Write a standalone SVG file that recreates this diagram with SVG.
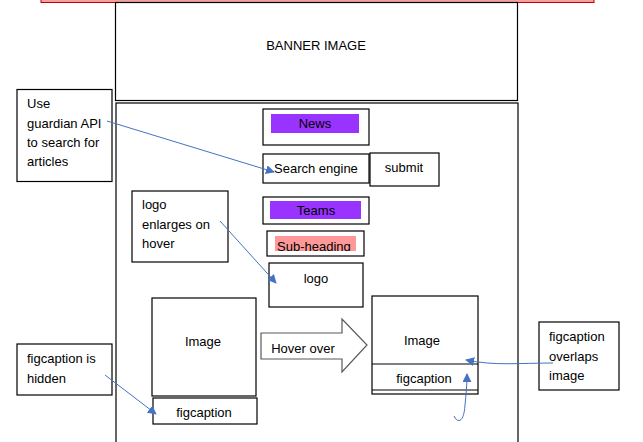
<svg xmlns="http://www.w3.org/2000/svg" width="643" height="442" viewBox="0 0 643 442">
<style>
.box{fill:#fff;stroke:#000;stroke-width:1.2}
.t{font-family:"Liberation Sans",Arial,sans-serif;font-size:13px;fill:#000}
.c{text-anchor:middle}
.conn{fill:none;stroke:#4472C4;stroke-width:1}
</style>
<defs>
<marker id="ah" viewBox="0 0 10 10" refX="9" refY="5" markerWidth="9" markerHeight="9" markerUnits="userSpaceOnUse" orient="auto">
<path d="M0,0 L10,5 L0,10 z" fill="#4472C4"/>
</marker>
<clipPath id="subclip"><rect x="275" y="236" width="81" height="15"/></clipPath>
</defs>
<rect width="643" height="442" fill="#fff"/>
<g id="topbar"><rect x="41" y="-5" width="553" height="7.5" fill="#f4a0a0" stroke="#c00000" stroke-width="1"/></g>
<g id="banner"><rect class="box" x="115.5" y="2.5" width="402" height="98"/><text class="t c" x="316" y="50">BANNER IMAGE</text></g>
<g id="content"><rect class="box" x="116" y="103" width="402" height="345"/></g>
<g id="news"><rect class="box" x="263" y="109" width="106" height="36"/><rect x="271" y="114" width="88" height="19" fill="#9933ff"/><text class="t c" x="315" y="128">News</text></g>
<g id="search"><rect class="box" x="263" y="154" width="106" height="29"/><text class="t" x="274" y="173">Search engine</text></g>
<g id="submit"><rect class="box" x="370" y="153" width="69" height="33"/><text class="t c" x="404" y="172">submit</text></g>
<g id="teams"><rect class="box" x="263" y="197" width="106" height="27"/><rect x="270" y="201" width="91" height="18" fill="#9933ff"/><text class="t c" x="316" y="215">Teams</text></g>
<g id="subheading"><rect class="box" x="267" y="231" width="97" height="25"/><rect x="275" y="236" width="81" height="15" fill="#ff9999"/><text class="t" x="277" y="251" clip-path="url(#subclip)">Sub-heading</text></g>
<g id="logo"><rect class="box" x="269" y="263" width="94" height="44"/><text class="t c" x="316" y="283">logo</text></g>
<g id="note-api"><rect class="box" x="17" y="89.5" width="95" height="92"/><text class="t" x="27" y="108">Use</text><text class="t" x="27" y="128">guardian API</text><text class="t" x="27" y="147">to search for</text><text class="t" x="27" y="166">articles</text></g>
<g id="note-logo"><rect class="box" x="132" y="191" width="96" height="71"/><text class="t" x="142" y="209">logo</text><text class="t" x="142" y="229">enlarges on</text><text class="t" x="142" y="248">hover</text></g>
<g id="image-left"><rect class="box" x="152" y="298" width="104" height="98"/><text class="t c" x="203" y="346">Image</text></g>
<g id="figcaption-left"><rect class="box" x="153" y="398" width="104" height="26"/><text class="t c" x="204" y="417">figcaption</text></g>
<g id="note-hidden"><rect class="box" x="17" y="344" width="95" height="51"/><text class="t" x="27" y="363">figcaption is</text><text class="t" x="27" y="383">hidden</text></g>
<g id="hover"><path d="M261,333 L342,333 L342,319 L367,345 L342,372 L342,359 L261,359 Z" fill="#fff" stroke="#595959" stroke-width="1.2"/><text class="t c" x="303" y="353">Hover over</text></g>
<g id="image-right"><rect class="box" x="372" y="296" width="106" height="98"/><line x1="372" y1="364" x2="478" y2="364" stroke="#000" stroke-width="1.2"/><line x1="372" y1="390" x2="478" y2="390" stroke="#000" stroke-width="1.2"/><text class="t c" x="422" y="345">Image</text><text class="t c" x="424" y="383">figcaption</text></g>
<g id="note-overlap"><rect class="box" x="539" y="322" width="80" height="68"/><text class="t" x="549" y="341">figcaption</text><text class="t" x="549" y="361">overlaps</text><text class="t" x="549" y="380">image</text></g>
<g id="connectors">
<path class="conn" d="M107,121 L274,172" marker-end="url(#ah)"/>
<path class="conn" d="M220,221 L276,283" marker-end="url(#ah)"/>
<path class="conn" d="M105,375 L156,414" marker-end="url(#ah)"/>
<path class="conn" d="M553,363 C520,363 495,366 466,360" marker-end="url(#ah)"/>
<path class="conn" d="M454,416 C458,424 464,422 465,405 C466,395 467,385 467,374" marker-end="url(#ah)"/>
</g>
</svg>
